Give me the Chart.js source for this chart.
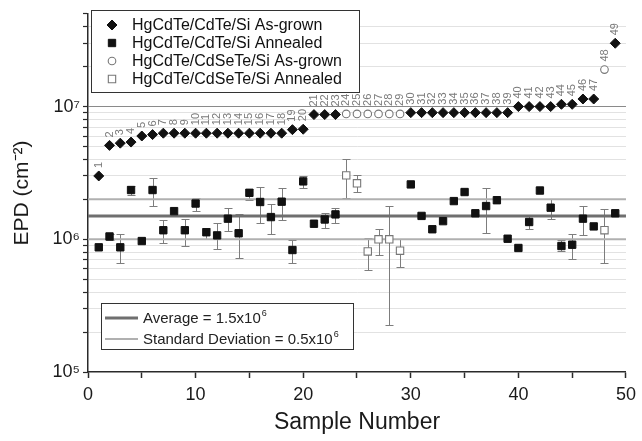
<!DOCTYPE html>
<html>
<head>
<meta charset="utf-8">
<script src="https://cdn.jsdelivr.net/npm/chart.js@4/dist/chart.umd.min.js"></script>
<style>
  html, body { margin: 0; padding: 0; background: #fff; }
</style>
</head>
<body>
<canvas id="epd" width="642" height="441"></canvas>
<script>
const sampleNumbers = [1, 2, 3, 4, 5, 6, 7, 8, 9, 10, 11, 12, 13, 14, 15, 16, 17, 18, 19, 20,
  21, 22, 23, 24, 25, 26, 27, 28, 29, 30, 31, 32, 33, 34, 35, 36, 37, 38, 39, 40,
  41, 42, 43, 44, 45, 46, 47, 48, 49];

// as-grown EPD (cm^-2)
const asGrownCdTe = [3.0e6, 5.1e6, 5.3e6, 5.4e6, 6.0e6, 6.15e6, 6.3e6, 6.3e6, 6.3e6, 6.3e6,
  6.3e6, 6.3e6, 6.3e6, 6.3e6, 6.3e6, 6.3e6, 6.3e6, 6.3e6, 6.7e6, 6.75e6,
  8.7e6, 8.7e6, 8.7e6, null, null, null, null, null, null, 9.0e6,
  9.0e6, 9.0e6, 9.0e6, 9.0e6, 9.0e6, 9.0e6, 9.0e6, 9.0e6, 9.0e6, 1.0e7,
  1.0e7, 1.0e7, 1.0e7, 1.04e7, 1.04e7, 1.14e7, 1.14e7, null, 3.0e7];
const asGrownCdSeTe = [null, null, null, null, null, null, null, null, null, null,
  null, null, null, null, null, null, null, null, null, null,
  null, null, null, 8.8e6, 8.8e6, 8.8e6, 8.8e6, 8.8e6, 8.8e6, null,
  null, null, null, null, null, null, null, null, null, null,
  null, null, null, null, null, null, null, 1.9e7, null];

// annealed EPD (cm^-2)
const annealedCdTe = [0.87e6, 1.05e6, 0.87e6, 2.35e6, 0.97e6, 2.35e6, 1.17e6, 1.63e6, 1.17e6, 1.86e6,
  1.13e6, 1.07e6, 1.43e6, 1.11e6, 2.24e6, 1.91e6, 1.47e6, 1.92e6, 0.83e6, 2.73e6,
  1.31e6, 1.41e6, 1.54e6, null, null, null, null, null, null, 2.59e6,
  1.5e6, 1.19e6, 1.37e6, 1.94e6, 2.27e6, 1.57e6, 1.78e6, 1.97e6, 1.01e6, 0.86e6,
  1.35e6, 2.33e6, 1.73e6, 0.89e6, 0.91e6, 1.43e6, 1.25e6, null, 1.57e6];
const annealedCdTeLow = [null, 0.98e6, 0.66e6, 2.14e6, null, 1.78e6, 0.93e6, null, 0.89e6, 1.62e6,
  1.01e6, 0.84e6, 1.15e6, 0.72e6, 1.96e6, 1.32e6, 1.09e6, 1.40e6, 0.66e6, 2.45e6,
  null, 1.22e6, 1.33e6, null, null, null, null, null, null, null,
  null, null, null, null, null, null, 1.12e6, null, null, null,
  1.19e6, null, 1.43e6, 0.82e6, 0.71e6, 1.07e6, null, null, null];
const annealedCdTeHigh = [null, 1.10e6, 1.10e6, 2.50e6, null, 2.90e6, 1.40e6, null, 1.43e6, 2.06e6,
  1.22e6, 1.32e6, 1.72e6, 1.54e6, 2.40e6, 2.49e6, 1.86e6, 2.45e6, 0.99e6, 3.00e6,
  null, 1.59e6, 1.72e6, null, null, null, null, null, null, null,
  null, null, null, null, null, null, 2.43e6, null, null, null,
  1.50e6, null, 2.02e6, 0.99e6, 1.09e6, 1.78e6, null, null, null];

const annealedCdSeTe = [null, null, null, null, null, null, null, null, null, null,
  null, null, null, null, null, null, null, null, null, null,
  null, null, null, 3.03e6, 2.64e6, 0.81e6, 1.0e6, 1.0e6, 0.82e6, null,
  null, null, null, null, null, null, null, null, null, null,
  null, null, null, null, null, null, null, 1.17e6, null];
const annealedCdSeTeLow = [null, null, null, null, null, null, null, null, null, null,
  null, null, null, null, null, null, null, null, null, null,
  null, null, null, 2.06e6, 2.28e6, 0.59e6, 0.76e6, 0.225e6, 0.62e6, null,
  null, null, null, null, null, null, null, null, null, null,
  null, null, null, null, null, null, null, 0.66e6, null];
const annealedCdSeTeHigh = [null, null, null, null, null, null, null, null, null, null,
  null, null, null, null, null, null, null, null, null, null,
  null, null, null, 4.0e6, 3.03e6, 1.03e6, 1.2e6, 1.78e6, 1.01e6, null,
  null, null, null, null, null, null, null, null, null, null,
  null, null, null, null, null, null, null, 1.68e6, null];

const avgEPD = 1.5e6;
const stdEPD = 0.5e6;

const yTickValues = [1e5, 2e5, 3e5, 4e5, 5e5, 6e5, 7e5, 8e5, 9e5,
  1e6, 2e6, 3e6, 4e6, 5e6, 6e6, 7e6, 8e6, 9e6,
  1e7, 2e7, 3e7, 4e7, 5e7];
const yTickLabels = { 1e5: '10\u2075', 1e6: '10\u2076', 1e7: '10\u2077' };
const xMin = 0, xMax = 50;

const toPoints = (vals, lo, hi) => sampleNumbers
  .map((n, i) => ({ x: n, y: vals[i], lo: lo ? lo[i] : null, hi: hi ? hi[i] : null }))
  .filter(p => p.y !== null);

const FONT = '"Liberation Sans", Arial, sans-serif';
Chart.defaults.font.family = FONT;
Chart.defaults.color = '#1a1a1a';

// vertical error bars with caps, under the markers
const errorBars = {
  id: 'errorBars',
  beforeDatasetsDraw(chart) {
    const { ctx, scales: { x, y } } = chart;
    ctx.save();
    ctx.strokeStyle = '#7d7d7d';
    ctx.lineWidth = 1;
    chart.data.datasets.forEach(ds => {
      if (!ds.errorBars) return;
      ds.data.forEach(p => {
        if (p.lo == null) return;
        const px = Math.round(x.getPixelForValue(p.x)) + 0.5;
        const yl = Math.round(y.getPixelForValue(p.lo)) + 0.5;
        const yh = Math.round(y.getPixelForValue(p.hi)) + 0.5;
        ctx.beginPath();
        ctx.moveTo(px, yh); ctx.lineTo(px, yl);
        ctx.moveTo(px - 4, yh); ctx.lineTo(px + 4, yh);
        ctx.moveTo(px - 4, yl); ctx.lineTo(px + 4, yl);
        ctx.stroke();
      });
    });
    ctx.restore();
  }
};

// rotated sample numbers above the as-grown points
const sampleLabels = {
  id: 'sampleLabels',
  afterDatasetsDraw(chart) {
    const { ctx, scales: { x, y } } = chart;
    ctx.save();
    ctx.fillStyle = '#7a7a7a';
    ctx.font = '11px ' + FONT;
    ctx.textAlign = 'left';
    ctx.textBaseline = 'middle';
    chart.data.datasets.forEach(ds => {
      if (!ds.sampleLabels) return;
      ds.data.forEach(p => {
        ctx.save();
        ctx.translate(x.getPixelForValue(p.x), y.getPixelForValue(p.y) - 8);
        ctx.rotate(-Math.PI / 2);
        ctx.fillText(String(p.x), 0, 0);
        ctx.restore();
      });
    });
    ctx.restore();
  }
};

// text with a trailing superscript digit drawn raised and small
const SUP = { '\u2070': '0', '\u00B9': '1', '\u00B2': '2', '\u00B3': '3', '\u2074': '4',
  '\u2075': '5', '\u2076': '6', '\u2077': '7', '\u2078': '8', '\u2079': '9' };
function drawSupText(ctx, text, x, y, size) {
  const last = text.slice(-1);
  ctx.font = size + 'px ' + FONT;
  if (!SUP[last]) { ctx.fillText(text, x, y); return; }
  const base = text.slice(0, -1);
  ctx.fillText(base, x, y);
  const w = ctx.measureText(base).width;
  ctx.font = Math.round(size * 0.6) + 'px ' + FONT;
  ctx.fillText(SUP[last], x + w + 1, y - size * 0.38);
}

// the two boxed legends inside the plot
const boxLegends = {
  id: 'boxLegends',
  afterDraw(chart) {
    const ctx = chart.ctx;
    const sets = chart.data.datasets;
    ctx.save();
    ctx.lineWidth = 1;
    ctx.strokeStyle = '#333';
    ctx.fillStyle = '#fff';
    ctx.fillRect(91, 10, 268, 82);
    ctx.strokeRect(91.5, 10.5, 268, 82);
    ctx.textBaseline = 'middle';
    sets.filter(d => d.legendBox === 'top').forEach((d, i) => {
      const cy = 25 + 18 * i;
      ctx.fillStyle = d.backgroundColor;
      ctx.strokeStyle = d.borderColor;
      ctx.lineWidth = d.borderWidth;
      Chart.helpers.drawPoint(ctx, { pointStyle: d.pointStyle, radius: d.pointRadius, rotation: 0, borderWidth: d.borderWidth }, 112, cy);
      ctx.fillStyle = '#111';
      ctx.font = '16px ' + FONT;
      ctx.fillText(d.label, 132, cy + 1);
    });

    ctx.lineWidth = 1;
    ctx.strokeStyle = '#333';
    ctx.fillStyle = '#fff';
    ctx.fillRect(101, 303, 252, 46);
    ctx.strokeRect(101.5, 303.5, 252, 46);
    sets.filter(d => d.legendBox === 'bottom').forEach((d, i) => {
      const cy = 318 + 21 * i;
      ctx.strokeStyle = d.borderColor;
      ctx.lineWidth = d.borderWidth;
      ctx.beginPath();
      ctx.moveTo(105, cy); ctx.lineTo(138, cy);
      ctx.stroke();
      ctx.fillStyle = '#222';
      drawSupText(ctx, d.label, 143, cy + 1, 15);
    });
    ctx.restore();
  }
};

new Chart(document.getElementById('epd'), {
  type: 'scatter',
  data: {
    datasets: [
      {
        label: 'HgCdTe/CdTe/Si As-grown', legendBox: 'top', sampleLabels: true,
        data: toPoints(asGrownCdTe),
        pointStyle: 'rectRot', pointRadius: 5, backgroundColor: '#111', borderColor: '#111', borderWidth: 1,
        order: 1
      },
      {
        label: 'HgCdTe/CdTe/Si Annealed', legendBox: 'top', errorBars: true,
        data: toPoints(annealedCdTe, annealedCdTeLow, annealedCdTeHigh),
        pointStyle: 'rect', pointRadius: 5.2, backgroundColor: '#111', borderColor: '#111', borderWidth: 1,
        order: 1
      },
      {
        label: 'HgCdTe/CdSeTe/Si As-grown', legendBox: 'top', sampleLabels: true,
        data: toPoints(asGrownCdSeTe),
        pointStyle: 'circle', pointRadius: 3.8, backgroundColor: '#fff', borderColor: '#777', borderWidth: 1.1,
        order: 1
      },
      {
        label: 'HgCdTe/CdSeTe/Si Annealed', legendBox: 'top', errorBars: true,
        data: toPoints(annealedCdSeTe, annealedCdSeTeLow, annealedCdSeTeHigh),
        pointStyle: 'rect', pointRadius: 5.2, backgroundColor: '#fff', borderColor: '#777', borderWidth: 1.1,
        order: 1
      },
      {
        label: 'Average = 1.5x10\u2076', legendBox: 'bottom',
        data: [{ x: xMin, y: avgEPD }, { x: xMax, y: avgEPD }],
        showLine: true, pointRadius: 0, borderColor: '#6f6f6f', borderWidth: 3,
        order: 5
      },
      {
        label: 'Standard Deviation = 0.5x10\u2076', legendBox: 'bottom',
        data: [{ x: xMin, y: avgEPD + stdEPD }, { x: xMax, y: avgEPD + stdEPD }],
        showLine: true, pointRadius: 0, borderColor: '#b0b0b0', borderWidth: 2,
        order: 5
      },
      {
        label: 'Standard Deviation (lower)',
        data: [{ x: xMin, y: avgEPD - stdEPD }, { x: xMax, y: avgEPD - stdEPD }],
        showLine: true, pointRadius: 0, borderColor: '#b0b0b0', borderWidth: 2,
        order: 5
      }
    ]
  },
  options: {
    responsive: false,
    animation: false,
    layout: { padding: { top: 13, right: 12, left: 0, bottom: 0 } },
    plugins: { legend: { display: false }, tooltip: { enabled: false } },
    scales: {
      x: {
        type: 'linear', min: xMin, max: xMax,
        afterFit(s) { s.height = 69; },
        border: { color: '#2a2a2a', width: 1.5 },
        grid: { drawOnChartArea: false, tickLength: 6, tickColor: '#2a2a2a', tickWidth: 1.5 },
        ticks: {
          stepSize: 5, autoSkip: false, maxRotation: 0, padding: 6,
          font: { size: 18 }, color: '#1a1a1a',
          callback: v => (v % 10 === 0 ? String(v) : '')
        },
        title: { display: true, text: 'Sample Number', font: { size: 23 }, color: '#1a1a1a', padding: { top: 0, bottom: 5 } }
      },
      y: {
        type: 'logarithmic', min: 1e5, max: 5e7,
        afterFit(s) { s.width = 88; },
        afterBuildTicks(s) { s.ticks = yTickValues.map(v => ({ value: v })); },
        border: { color: '#2a2a2a', width: 1.5 },
        grid: {
          tickLength: 5, tickColor: '#2a2a2a', tickWidth: 1.2,
          color: c => {
            const v = c.tick ? c.tick.value : null;
            if (v === 1e5 || v === 5e7) return 'rgba(0,0,0,0)';
            if (v === 1e6 || v === 1e7) return '#8a8a8a';
            return '#e2e2e2';
          }
        },
        ticks: {
          autoSkip: false, padding: 3, font: { size: 18 }, color: '#1a1a1a',
          callback: v => yTickLabels[v] || ''
        },
        title: { display: true, text: 'EPD (cm\u207B\u00B2)', font: { size: 21 }, color: '#1a1a1a', padding: { top: 10, bottom: 0 } }
      }
    }
  },
  plugins: [errorBars, sampleLabels, boxLegends]
});
</script>
</body>
</html>
